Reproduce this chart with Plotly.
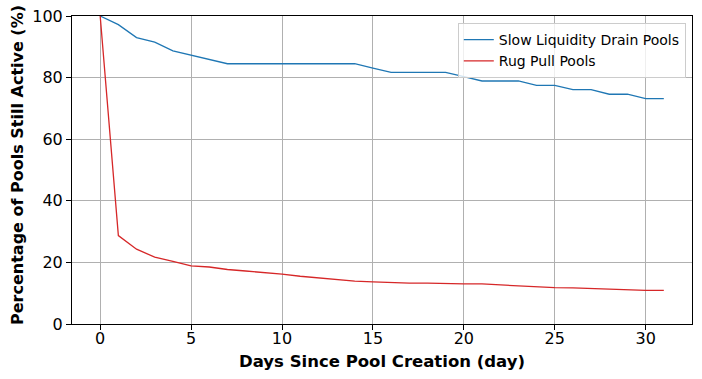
import plotly.graph_objects as go

# days since pool creation
days = list(range(0, 32))

# percentage of pools still active
slow_drain = [100.0, 97.2, 93.0, 91.5, 88.7, 87.3, 85.9, 84.5, 84.5, 84.5, 84.5,
              84.5, 84.5, 84.5, 84.5, 83.1, 81.7, 81.7, 81.7, 81.7, 80.3, 78.9,
              78.9, 78.9, 77.5, 77.5, 76.1, 76.1, 74.6, 74.6, 73.2, 73.2]
rug_pull = [100.0, 28.7, 24.3, 21.7, 20.3, 18.9, 18.5, 17.7, 17.2, 16.8, 16.2,
            15.5, 15.0, 14.5, 13.9, 13.7, 13.4, 13.3, 13.3, 13.1, 13.0, 13.0,
            12.7, 12.2, 11.9, 11.8, 11.7, 11.5, 11.2, 10.9, 10.9, 10.9]

x_ticks = [0, 5, 10, 15, 20, 25, 30]
y_ticks = [0, 20, 40, 60, 80, 100]

fig = go.Figure()
fig.add_trace(go.Scatter(x=days, y=slow_drain, mode='lines',
                         name='Slow Liquidity Drain Pools',
                         line=dict(color='#1f77b4', width=1.3)))
fig.add_trace(go.Scatter(x=days, y=rug_pull, mode='lines',
                         name='Rug Pull Pools',
                         line=dict(color='#d62728', width=1.3)))

axis_style = dict(showline=True, linecolor='black', linewidth=1, mirror=True,
                  showgrid=True, gridcolor='#b0b0b0', gridwidth=1,
                  ticks='outside', ticklen=5, tickcolor='black',
                  zeroline=False, automargin=False, ticklabeloverflow='allow',
                  tickfont=dict(size=16, color='black'))

fig.update_layout(
    width=702, height=379,
    margin=dict(l=72, r=10, t=16, b=55),
    plot_bgcolor='white', paper_bgcolor='white',
    font=dict(family='DejaVu Sans', color='black'),
    xaxis=dict(range=[-1.55, 32.55], tickvals=x_ticks, ticklabelstandoff=-5,
               title=dict(text='<b>Days Since Pool Creation (day)</b>',
                          font=dict(size=16.5), standoff=8),
               **axis_style),
    yaxis=dict(range=[0, 100], tickvals=y_ticks, **axis_style),
    legend=dict(x=0.99, y=0.977, xanchor='right', yanchor='top',
                bgcolor='rgba(255,255,255,0.8)', bordercolor='#cccccc',
                borderwidth=1, font=dict(size=14), itemwidth=30,
                tracegroupgap=0),
    showlegend=True,
)

# y title as an annotation so it can sit a little above the centre
fig.add_annotation(text='<b>Percentage of Pools Still Active (%)</b>',
                   xref='paper', yref='paper', x=0, y=0.5,
                   xanchor='center', yanchor='middle', textangle=-90,
                   xshift=-55, yshift=5, showarrow=False,
                   font=dict(size=16))

# drop the default 8px body margin so the figure fills the window
fig.write_html("out.html", config={'displayModeBar': False},
               post_script="document.body.style.margin='0';")
